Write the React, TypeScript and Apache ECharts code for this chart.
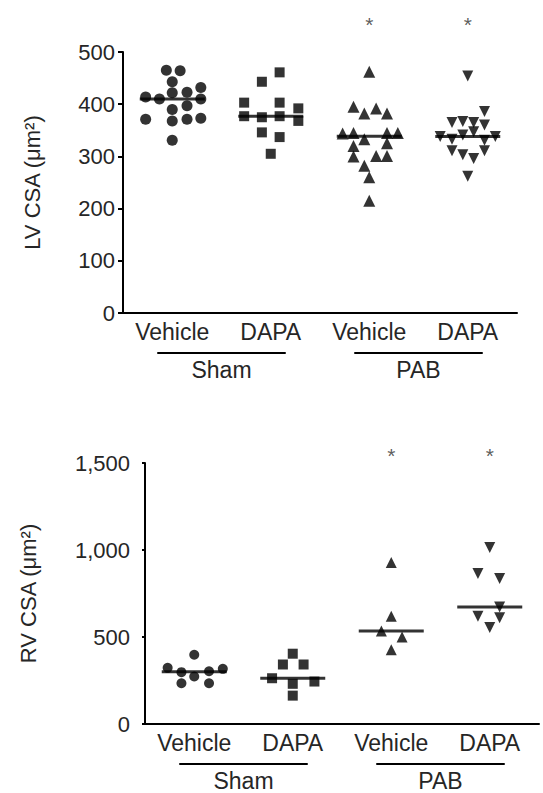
import React, { useEffect, useRef } from "react";
import * as echarts from "echarts";

// Categories and groups
const categories = ["Vehicle", "DAPA", "Vehicle", "DAPA"];
const groups = ["Sham", "PAB"];
const groupSpans = [[0, 1], [2, 3]];

// LV CSA (µm²): [horizontal jitter (category units), value]
const lvShamVehicle = [
  [-0.06, 465], [0.08, 464], [0, 443], [-0.27, 414], [-0.13, 410], [0, 422], [0.15, 423], [0.29, 432],
  [0.29, 410], [0, 390], [0.15, 397], [-0.27, 371], [0, 368], [0.15, 371], [0.29, 373], [0, 331],
];
const lvShamDapa = [
  [0.09, 461], [-0.09, 443], [-0.27, 403], [0.09, 403], [-0.27, 377], [-0.09, 375], [0.09, 377],
  [0.28, 392], [0.28, 368], [-0.09, 346], [0.09, 337], [0, 305],
];
const lvPabVehicle = [
  [0, 462], [-0.16, 395], [-0.05, 382], [0.07, 392], [0.18, 382], [-0.27, 344], [-0.16, 345], [-0.05, 333],
  [0.18, 345], [0.29, 345], [-0.16, 320], [0.18, 325], [-0.16, 300], [0.07, 301], [0.18, 301], [-0.05, 282],
  [0, 260], [0, 215],
];
const lvPabDapa = [
  [0, 454], [0.17, 386], [-0.16, 365], [-0.05, 367], [0.06, 365], [0.17, 360], [-0.28, 338], [-0.16, 333],
  [-0.05, 341], [0.06, 347], [0.17, 331], [0.28, 338], [-0.16, 311], [-0.05, 303], [0.06, 296], [0.17, 311],
  [0, 262],
];

// RV CSA (µm²)
const rvShamVehicle = [
  [0, 398], [-0.27, 323], [-0.13, 298], [0, 273], [0.15, 303], [0.29, 317], [-0.13, 234], [0.15, 234],
];
const rvShamDapa = [
  [0, 404], [-0.1, 342], [0.11, 342], [-0.21, 263], [0, 231], [0, 163], [0.22, 244],
];
const rvPabVehicle = [[0, 928], [0, 619], [-0.1, 535], [0.11, 500], [0, 427]];
const rvPabDapa = [[0, 1015], [-0.12, 865], [0.1, 836], [0.1, 672], [-0.12, 619], [0.1, 611], [0, 554]];

// Significance markers (category index, value position)
const lvStars = [[2, 552], [3, 552]];
const rvStars = [[2, 1545], [3, 1545]];

const lvTicks = { min: 0, max: 500, interval: 100 };
const rvTicks = { min: 0, max: 1500, interval: 500 };

const FONT = "Liberation Sans, Arial, sans-serif";
const TXT = "#262626";

const median = (arr: number[][]) => {
  const v = arr.map((d) => d[1]).sort((a, b) => a - b);
  const n = v.length;
  return n % 2 ? v[(n - 1) / 2] : (v[n / 2 - 1] + v[n / 2]) / 2;
};

const symbols = [
  { symbol: "circle", rotate: 0 },
  { symbol: "rect", rotate: 0 },
  { symbol: "triangle", rotate: 0 },
  { symbol: "triangle", rotate: 180 },
];

function buildSeries(
  groupsData: number[][][],
  xAxisIndex: number,
  yAxisIndex: number,
  stars: number[][],
  symSize: number[]
) {
  const s: any[] = [];
  groupsData.forEach((g, i) => {
    s.push({
      type: "scatter",
      xAxisIndex,
      yAxisIndex,
      symbol: symbols[i].symbol,
      symbolSize: symSize[i],
      symbolRotate: symbols[i].rotate,
      itemStyle: { color: "#000" },
      data: g.map((d) => [i + d[0], d[1]]),
      z: 3,
    });
  });
  s.push({
    type: "scatter",
    xAxisIndex,
    yAxisIndex,
    symbol: "rect",
    symbolSize: [65, 3],
    itemStyle: { color: "#000" },
    data: groupsData.map((g, i) => [i, median(g)]),
    z: 2,
  });
  s.push({
    type: "scatter",
    xAxisIndex,
    yAxisIndex,
    clip: false,
    symbol: "circle",
    symbolSize: 1,
    itemStyle: { color: "rgba(0,0,0,0)" },
    label: {
      show: true,
      position: "inside",
      formatter: "*",
      fontSize: 21,
      fontFamily: FONT,
      color: "#333",
    },
    data: stars,
  });
  s.push({
    type: "custom",
    xAxisIndex,
    yAxisIndex,
    clip: false,
    data: groupSpans,
    renderItem: (params: any, api: any) => {
      const p0 = api.coord([api.value(0), 0]);
      const p1 = api.coord([api.value(1), 0]);
      const y = p0[1] + 40;
      return {
        type: "group",
        children: [
          {
            type: "line",
            shape: { x1: p0[0] - 15, y1: y, x2: p1[0] + 15, y2: y },
            style: { stroke: "#000", lineWidth: 2 },
          },
          {
            type: "text",
            style: {
              text: groups[params.dataIndex],
              x: (p0[0] + p1[0]) / 2,
              y: p0[1] + 57,
              align: "center",
              verticalAlign: "middle",
              fontSize: 23,
              fontFamily: FONT,
              fill: TXT,
            },
          },
        ],
      };
    },
  });
  return s;
}

export default function App() {
  const ref = useRef<HTMLDivElement>(null);
  useEffect(() => {
    if (!ref.current) return;
    const chart = echarts.init(ref.current, null, { renderer: "svg" });
    const catAxis = (gridIndex: number) => ({
      type: "category",
      gridIndex,
      data: categories,
      boundaryGap: true,
      axisLine: { onZero: false, lineStyle: { color: "#000", width: 2 } },
      axisTick: { show: false },
      axisLabel: { fontSize: 23, fontFamily: FONT, color: TXT, margin: 7, interval: 0 },
      splitLine: { show: false },
    });
    const valXAxis = (gridIndex: number) => ({
      type: "value",
      gridIndex,
      min: -0.5,
      max: 3.5,
      show: false,
    });
    const yAxis = (gridIndex: number, ticks: any, name: string, nameGap: number, fmt: any, margin: number, tickLen: number) => ({
      type: "value",
      gridIndex,
      ...ticks,
      name,
      nameLocation: "middle",
      nameGap,
      nameRotate: 90,
      nameTextStyle: { fontSize: 22, fontFamily: FONT, color: TXT },
      axisLine: { show: true, onZero: false, lineStyle: { color: "#000", width: 2 } },
      axisTick: { show: true, length: tickLen, lineStyle: { color: "#000", width: 2 } },
      axisLabel: { fontSize: 22, fontFamily: FONT, color: TXT, margin, formatter: fmt },
      splitLine: { show: false },
    });
    chart.setOption({
      animation: false,
      backgroundColor: "#fff",
      grid: [
        { left: 123, top: 52, width: 394, height: 261 },
        { left: 145, top: 463, width: 394, height: 261 },
      ],
      xAxis: [catAxis(0), valXAxis(0), catAxis(1), valXAxis(1)],
      yAxis: [
        yAxis(0, lvTicks, "LV CSA (μm²)", 80, (v: number) => String(v), 8, 5),
        yAxis(1, rvTicks, "RV CSA (μm²)", 106, (v: number) => v.toLocaleString("en-US"), 15, 3),
      ],
      series: [
        ...buildSeries([lvShamVehicle, lvShamDapa, lvPabVehicle, lvPabDapa], 1, 0, lvStars, [11, 10, 12, 11]),
        ...buildSeries([rvShamVehicle, rvShamDapa, rvPabVehicle, rvPabDapa], 3, 1, rvStars, [10, 10, 11, 11]),
      ],
    });
    return () => chart.dispose();
  }, []);
  return (
    <div
      ref={ref}
      style={{ position: "absolute", left: 0, top: 0, width: 543, height: 793, background: "#fff" }}
    />
  );
}
